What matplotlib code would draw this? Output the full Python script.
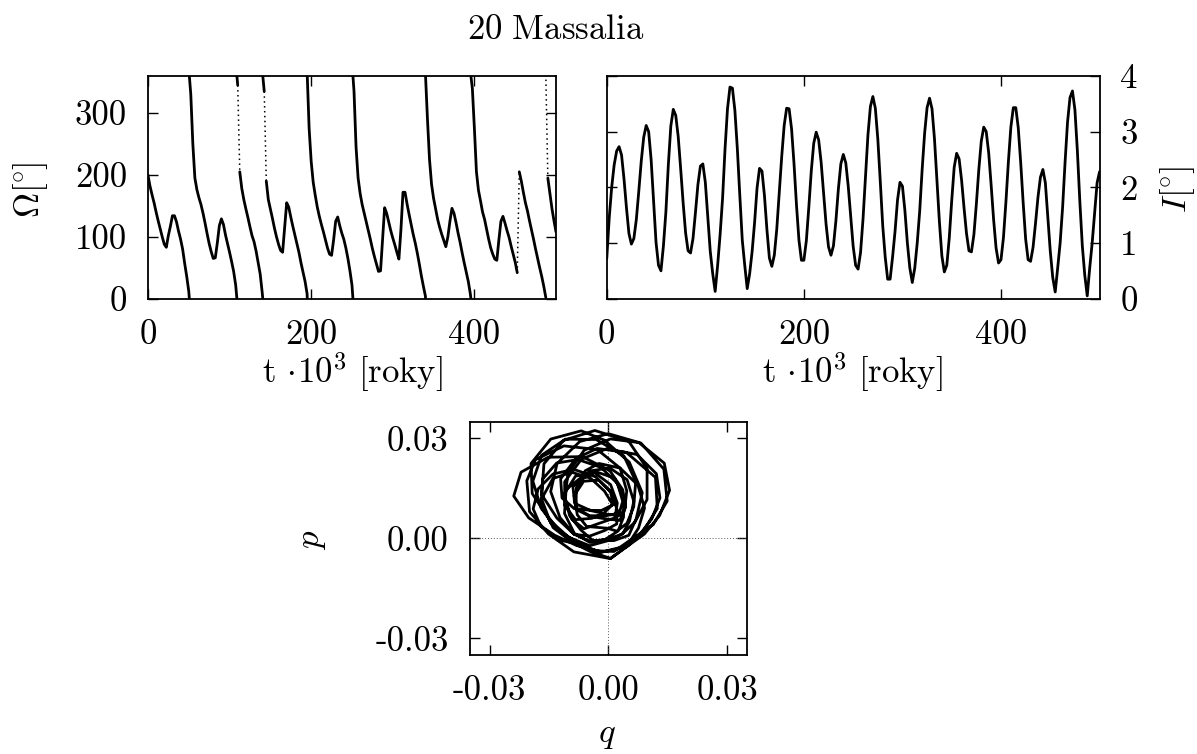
import numpy as np
import matplotlib
matplotlib.use("Agg")
import matplotlib.pyplot as plt

plt.rcParams['font.family'] = 'serif'
plt.rcParams['font.serif'] = ['cmr10']
plt.rcParams['mathtext.fontset'] = 'cm'
plt.rcParams['axes.unicode_minus'] = False
plt.rcParams['font.size'] = 25

# sampling grid [10^3 years]
t_step = 2.5
t = np.arange(0, 500 + t_step / 2, t_step)

# inclination I [deg]
incl = [
    0.72, 1.45, 2.00, 2.40, 2.65, 2.73, 2.58, 2.15, 1.63, 1.17,
    0.98, 1.08, 1.42, 1.93, 2.47, 2.90, 3.11, 3.00, 2.50, 1.75,
    1.01, 0.60, 0.50, 0.95, 1.56, 2.41, 3.10, 3.40, 3.29, 2.91,
    2.33, 1.72, 1.18, 0.86, 0.82, 1.08, 1.55, 2.05, 2.38, 2.42,
    2.09, 1.47, 0.85, 0.45, 0.13, 0.60, 1.15, 1.80, 2.69, 3.41,
    3.80, 3.78, 3.38, 2.69, 1.85, 1.05, 0.60, 0.18, 0.45, 0.85,
    1.37, 1.99, 2.34, 2.29, 1.85, 1.24, 0.73, 0.58, 0.78, 1.25,
    1.89, 2.55, 3.11, 3.42, 3.41, 3.05, 2.42, 1.68, 1.05, 0.69,
    0.69, 1.04, 1.64, 2.29, 2.79, 2.99, 2.85, 2.45, 1.90, 1.34,
    0.93, 0.78, 0.95, 1.40, 1.97, 2.42, 2.59, 2.44, 2.02, 1.48,
    0.94, 0.60, 0.53, 0.83, 1.43, 2.20, 2.94, 3.45, 3.63, 3.42,
    2.87, 2.11, 1.31, 0.75, 0.35, 0.35, 0.75, 1.21, 1.77, 2.09,
    2.02, 1.58, 1.00, 0.55, 0.29, 0.55, 1.00, 1.57, 2.32, 2.97,
    3.43, 3.60, 3.41, 2.87, 2.13, 1.38, 0.77, 0.48, 0.60, 1.09,
    1.76, 2.36, 2.61, 2.51, 2.13, 1.63, 1.17, 0.86, 0.84, 1.15,
    1.70, 2.32, 2.83, 3.08, 3.00, 2.62, 2.04, 1.42, 0.91, 0.64,
    0.70, 1.10, 1.74, 2.46, 3.08, 3.43, 3.43, 3.07, 2.44, 1.72,
    1.07, 0.70, 0.67, 0.92, 1.35, 1.82, 2.18, 2.32, 2.08, 1.46,
    0.85, 0.38, 0.12, 0.55, 1.00, 1.64, 2.45, 3.17, 3.61, 3.73,
    3.39, 2.65, 1.74, 0.95, 0.42, 0.05, 0.55, 1.00, 1.53, 2.08,
    2.28,
]

# longitude of node Omega [deg]
node = [
    200, 182, 168, 155, 140, 126, 113, 100, 88, 83,
    102, 117, 134, 134, 124, 109, 96, 80, 57, 36,
    12, 330, 250, 195, 176, 163, 152, 138, 122, 105,
    89, 76, 65, 66, 90, 118, 129, 120, 103, 89,
    75, 60, 44, 22, 345, 205, 178, 160, 145, 131,
    116, 102, 92, 77, 58, 40, 10, 335, 190, 160,
    145, 130, 114, 100, 88, 78, 75, 115, 155, 148,
    132, 117, 103, 89, 75, 58, 43, 28, 8, 275,
    222, 188, 167, 148, 133, 120, 108, 95, 82, 72,
    70, 95, 125, 132, 118, 106, 96, 82, 65, 45,
    22, 335, 245, 195, 170, 152, 138, 124, 110, 96,
    81, 68, 56, 44, 45, 95, 147, 138, 124, 110,
    98, 87, 75, 64, 112, 172, 172, 153, 136, 120,
    104, 90, 74, 56, 37, 20, 4, 290, 225, 185,
    162, 145, 128, 115, 104, 94, 84, 100, 125, 146,
    138, 123, 106, 91, 74, 58, 43, 28, 8, 340,
    275, 205, 175, 158, 140, 128, 112, 96, 82, 72,
    64, 62, 95, 125, 133, 122, 110, 99, 85, 72,
    59, 42, 205, 190, 172, 155, 142, 126, 111, 96,
    80, 65, 50, 36, 20, 2, 195, 170, 146, 126,
    108,
]

incl = np.array(incl, dtype=float)
node = np.array(node, dtype=float)

# p, q elements
q = np.sin(np.radians(incl) / 2) * np.cos(np.radians(node))
p = np.sin(np.radians(incl) / 2) * np.sin(np.radians(node))

fig = plt.figure(figsize=(11.97, 7.54), dpi=100)
ax1 = fig.add_axes([0.1236, 0.6039, 0.3409, 0.2954])
ax2 = fig.add_axes([0.5069, 0.6039, 0.4117, 0.2954])
ax3 = fig.add_axes([0.3924, 0.1313, 0.2317, 0.3094])

tick_kw = dict(direction='in', length=7.5, width=1.0, top=True, right=True, pad=15)
line_kw = dict(color='k', lw=2.0, solid_joinstyle='round', solid_capstyle='round')
time_label = r'$\mathrm{t}\,\cdot\!10^3\ [\mathrm{roky}]$'

# Omega: unwrap and draw every 360 copy, fast jumps as dots
om = np.degrees(np.unwrap(np.radians(node)))
steep = np.abs(np.diff(om)) > 100
xs, ys = [t[0]], [om[0]]
for i in range(1, len(t)):
    if steep[i - 1]:
        xs.append(np.nan)
        ys.append(np.nan)
    xs.append(t[i])
    ys.append(om[i])
xs = np.array(xs)
ys = np.array(ys)
k_lo = int(np.floor(-om.max() / 360))
k_hi = int(np.ceil(-om.min() / 360)) + 1
for k in range(k_lo, k_hi):
    ax1.plot(xs, ys + 360 * k, **line_kw)
    for i in np.where(steep)[0]:
        ax1.plot(t[i:i + 2], om[i:i + 2] + 360 * k, color='k', lw=1.1,
                 ls=(0, (1, 2.2)))
ax1.set_xlim(0, 500)
ax1.set_ylim(0, 360)
ax1.set_xticks([0, 200, 400])
ax1.set_yticks([0, 100, 200, 300])
ax1.tick_params(**tick_kw)
ax1.set_xlabel(time_label, va='center')
ax1.xaxis.set_label_coords(0.5, -0.329)
ax1.set_ylabel(r'$\Omega[\!{}^\circ\!]$', va='center')
ax1.yaxis.set_label_coords(-0.287, 0.488)

# inclination
ax2.plot(t, incl, **line_kw)
ax2.set_xlim(0, 500)
ax2.set_ylim(0, 4)
ax2.set_xticks([0, 200, 400])
ax2.set_yticks([0, 1, 2, 3, 4])
ax2.tick_params(**tick_kw)
ax2.tick_params(axis='y', labelleft=False, labelright=True)
ax2.yaxis.set_label_position('right')
ax2.set_xlabel(time_label, va='center')
ax2.xaxis.set_label_coords(0.498, -0.329)
ax2.set_ylabel(r'$I[\!{}^\circ\!]$', va='center', rotation=90)
ax2.yaxis.set_label_coords(1.159, 0.488)

# q-p plane
ax3.axhline(0, color='0.35', lw=0.7, ls=(0, (1, 2)))
ax3.axvline(0, color='0.35', lw=0.7, ls=(0, (1, 2)))
ax3.plot(q, p, **line_kw)
ax3.set_xlim(-0.035, 0.035)
ax3.set_ylim(-0.035, 0.035)
ax3.set_xticks([-0.03, 0, 0.03])
ax3.set_yticks([-0.03, 0, 0.03])
ax3.set_xticklabels(['-0.03', '0.00', '0.03'])
ax3.set_yticklabels(['-0.03', '0.00', '0.03'])
ax3.tick_params(**tick_kw)
ax3.set_xlabel(r'$q$', va='center')
ax3.xaxis.set_label_coords(0.495, -0.343)
ax3.set_ylabel(r'$p$', va='center')
ax3.yaxis.set_label_coords(-0.569, 0.493)

for ax in (ax1, ax2, ax3):
    for s in ax.spines.values():
        s.set_linewidth(1.3)

fig.text(556 / 1197, 1 - 30 / 754, r'$\mathrm{20\ Massalia}$', ha='center', va='center')

fig.savefig('out.png', dpi=100)
